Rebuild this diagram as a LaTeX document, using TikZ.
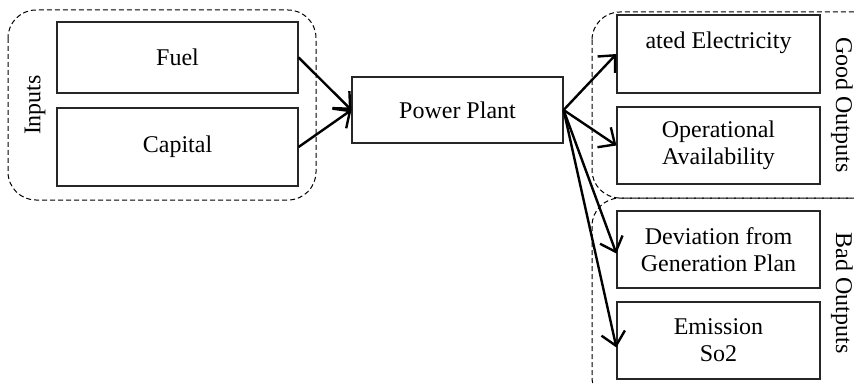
\documentclass[tikz,border=0pt]{standalone}
\usepackage{fontspec}
\setmainfont{Liberation Serif}
\usetikzlibrary{arrows.meta}
\begin{document}
\begin{tikzpicture}[x=1pt,y=-1pt,
  box/.style={draw=black!85,line width=1.2pt,minimum width=#1,inner sep=0pt,align=center,font=\fontsize{24}{27}\selectfont},
  grp/.style={draw=black,dash pattern=on 5pt off 3pt,line width=1pt,rounded corners=28pt},
  lab/.style={font=\fontsize{24}{27}\selectfont,inner sep=0pt},
  conn/.style={line width=2.4pt,-{Straight Barb[length=13pt,width=24pt,line width=2.4pt]}}]
\useasboundingbox (0,0) rectangle (854,385);
\clip (0,0) rectangle (854,385);
% groups
\draw[grp] (8,10) rectangle (316,200);
\draw[grp] (592,12) rectangle (885,198);
\draw[grp] (592,198) rectangle (885,405);
\node[lab,rotate=90] (inputs) at (35,105) {Inputs};
\node[lab,rotate=-90] (good) at (842,105) {Good Outputs};
\node[lab,rotate=-90] (bad) at (842,293) {Bad Outputs};
% boxes
\node[box=241pt,minimum height=71pt] (fuel) at (177.5,57.5) {Fuel};
\node[box=241pt,minimum height=78pt] (capital) at (177.5,147) {Capital};
\node[box=211pt,minimum height=66pt,text depth=-6pt] (plant) at (457.5,110) {Power Plant};
\node[box=203pt,minimum height=78pt] (elec) at (718.5,54) {ated Electricity\\\mbox{}};
\node[box=203pt,minimum height=77pt] (oper) at (718.5,145.5) {Operational\\Availability};
\node[box=203pt,minimum height=77pt] (dev) at (718.5,249.5) {Deviation from\\Generation Plan};
\node[box=203pt,minimum height=77pt] (emis) at (718.5,340.5) {Emission\\So2};
% connectors
\draw[conn] (fuel.east) -- (plant.west);
\draw[conn] (capital.east) -- (plant.west);
\draw[conn] (plant.east) -- (elec.west);
\draw[conn] (plant.east) -- (oper.west);
\draw[conn] (plant.east) -- ([yshift=-4pt]dev.west);
\draw[conn] (plant.east) -- ([yshift=-7pt]emis.west);
\end{tikzpicture}
\end{document}
